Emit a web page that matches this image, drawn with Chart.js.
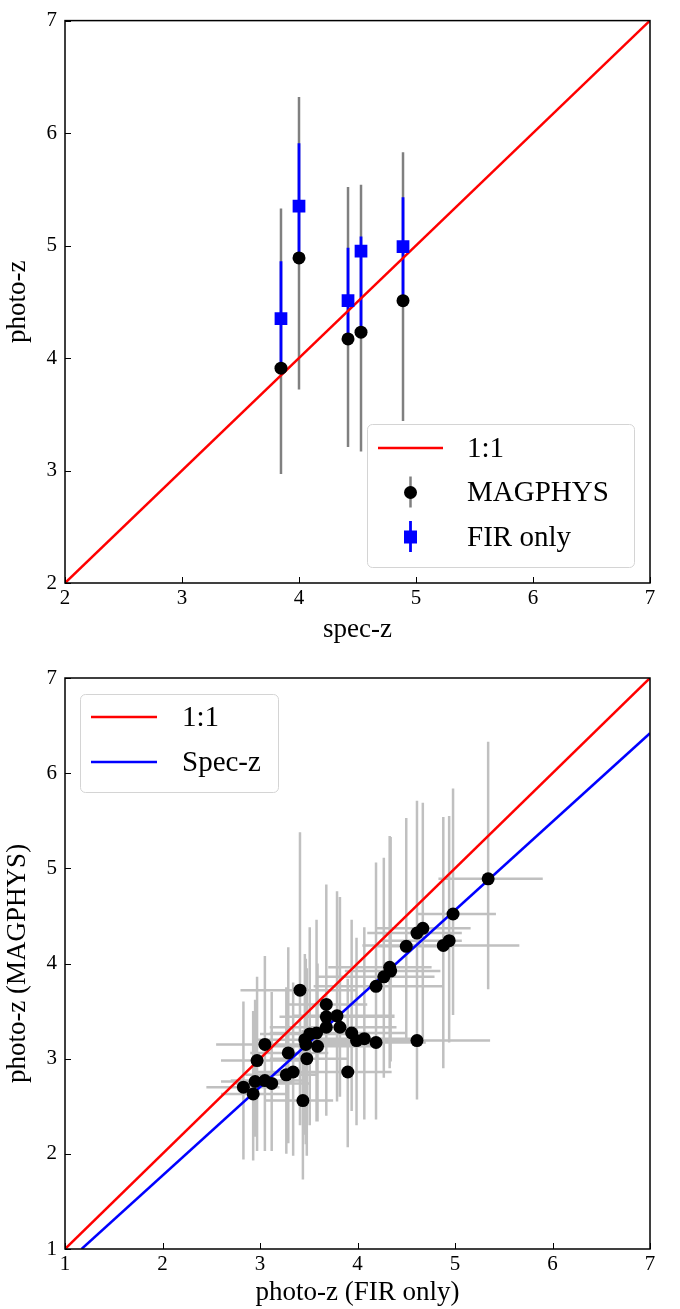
<!DOCTYPE html>
<html>
<head>
<meta charset="utf-8">
<script src="https://cdn.jsdelivr.net/npm/chart.js@4.4.1/dist/chart.umd.min.js"></script>
<style>
  html, body { margin: 0; padding: 0; background: #fff; }
  #wrap { position: relative; width: 680px; height: 1309px; }
  .panel { position: absolute; left: 0; width: 680px; }
</style>
</head>
<body>
<div id="wrap">
  <div class="panel" style="top:0;height:655px"><canvas id="chart-spec"></canvas></div>
  <div class="panel" style="top:655px;height:654px"><canvas id="chart-photo"></canvas></div>
</div>
<script>
// top panel: spec-z against photo-z
var specZ = [3.846, 4.0, 4.419, 4.53, 4.889];
var magphysZ = [3.91, 4.89, 4.17, 4.23, 4.51];
var magphysLo = [2.97, 3.72, 3.21, 3.17, 3.44];
var magphysHi = [5.33, 6.32, 5.52, 5.54, 5.83];
var firZ = [4.35, 5.35, 4.51, 4.95, 4.99];
var firLo = [3.90, 4.87, 4.17, 4.23, 4.51];
var firHi = [4.86, 5.91, 4.98, 5.08, 5.43];
var specTicks = [2, 3, 4, 5, 6, 7];

// bottom panel: FIR-only photo-z against MAGPHYS photo-z
var firOnly   = [5.34, 4.98, 4.61, 4.67, 4.88, 4.94, 4.50, 4.33, 4.34, 4.27, 4.19, 4.19, 4.61, 4.07, 3.99, 3.94, 3.82, 3.68, 3.79, 3.68,
                 3.68, 3.41, 3.58, 3.51, 3.46, 3.47, 3.59, 3.48, 3.29, 3.05, 2.97, 3.90, 3.27, 3.34, 2.95, 3.05, 3.12, 2.83, 2.93, 3.44];
var firOnlyLo = [4.83, 4.62, 4.10, 4.20, 4.05, 4.23, 4.17, 3.70, 3.87, 3.60, 3.55, 3.60, 3.75, 3.55, 3.40, 3.45, 3.30, 3.10, 3.35, 3.20,
                 3.30, 2.80, 3.10, 3.00, 2.95, 2.90, 3.05, 3.10, 2.90, 2.55, 2.60, 3.40, 2.85, 2.95, 2.60, 2.70, 2.75, 2.45, 2.60, 3.05];
var firOnlyHi = [5.90, 5.42, 5.07, 5.16, 5.66, 5.07, 4.98, 4.76, 4.85, 4.79, 4.88, 4.70, 5.36, 4.65, 4.55, 4.50, 4.40, 4.20, 4.38, 4.38,
                 4.10, 4.00, 4.05, 4.00, 3.90, 4.20, 4.20, 3.90, 3.70, 3.50, 3.40, 4.35, 3.60, 3.70, 3.35, 3.45, 3.50, 3.20, 3.30, 3.75];
var magphys   = [4.89, 4.52, 4.32, 4.37, 4.19, 4.24, 4.18, 3.96, 3.92, 3.86, 3.76, 3.17, 3.19, 3.21, 3.19, 3.27, 3.33, 3.33, 3.45, 3.44,
                 3.57, 3.72, 3.27, 3.26, 3.20, 3.15, 3.13, 3.00, 3.06, 3.15, 2.98, 2.86, 2.83, 2.86, 2.76, 2.77, 2.74, 2.70, 2.63, 2.56];
var magphysLo2 = [3.73, 3.46, 3.05, 3.20, 2.90, 3.17, 3.21, 2.90, 2.97, 2.80, 2.36, 2.36, 2.57, 2.36, 2.30, 2.45, 2.60, 2.50, 2.55, 2.40,
                 2.70, 2.30, 2.34, 2.30, 2.20, 2.10, 2.34, 1.98, 2.11, 2.18, 2.03, 2.07, 2.00, 1.98, 2.18, 2.03, 2.03, 1.94, 1.93, 1.73];
var magphysHi2 = [6.33, 5.84, 5.71, 5.69, 5.54, 5.55, 5.53, 5.34, 5.33, 5.11, 5.06, 4.47, 4.60, 4.38, 4.27, 4.46, 4.70, 4.65, 4.76, 4.60,
                 4.83, 5.38, 4.46, 4.38, 4.10, 4.05, 4.00, 3.95, 4.17, 4.08, 3.86, 3.84, 3.75, 3.80, 3.62, 3.60, 3.70, 3.60, 3.50, 3.30];
var specFitX = [1.17, 7];
var specFitY = [1, 6.42];
var photoTicks = [1, 2, 3, 4, 5, 6, 7];

var SERIF = "'Liberation Serif', 'DejaVu Serif', serif";
Chart.defaults.font.family = SERIF;
Chart.defaults.color = "#000";

function pairs(xs, ys) {
  return xs.map(function (x, i) { return { x: x, y: ys[i] }; });
}

// error bars, drawn under the datasets through the chart's scales
var errorBars = {
  id: "errorBars",
  beforeDatasetsDraw: function (chart, args, opts) {
    var ctx = chart.ctx, sx = chart.scales.x, sy = chart.scales.y, a = chart.chartArea;
    ctx.save();
    ctx.beginPath();
    ctx.rect(a.left, a.top, a.right - a.left, a.bottom - a.top);
    ctx.clip();
    (opts.sets || []).forEach(function (s) {
      ctx.strokeStyle = s.color;
      ctx.lineWidth = s.width;
      ctx.beginPath();
      for (var i = 0; i < s.x.length; i++) {
        var px = sx.getPixelForValue(s.x[i]), py = sy.getPixelForValue(s.y[i]);
        if (s.yLo) {
          ctx.moveTo(px, sy.getPixelForValue(s.yLo[i]));
          ctx.lineTo(px, sy.getPixelForValue(s.yHi[i]));
        }
        if (s.xLo) {
          ctx.moveTo(sx.getPixelForValue(s.xLo[i]), py);
          ctx.lineTo(sx.getPixelForValue(s.xHi[i]), py);
        }
      }
      ctx.stroke();
    });
    ctx.restore();
  }
};

// matplotlib style box with inward ticks
var frame = {
  id: "frame",
  afterDatasetsDraw: function (chart) {
    var ctx = chart.ctx, a = chart.chartArea, sx = chart.scales.x, sy = chart.scales.y;
    ctx.save();
    ctx.strokeStyle = "#000";
    ctx.lineWidth = 1;
    ctx.beginPath();
    sx.ticks.forEach(function (t) {
      var p = Math.round(sx.getPixelForValue(t.value)) + 0.5;
      ctx.moveTo(p, a.bottom);
      ctx.lineTo(p, a.bottom - 6);
    });
    sy.ticks.forEach(function (t) {
      var p = Math.round(sy.getPixelForValue(t.value)) + 0.5;
      ctx.moveTo(a.left, p);
      ctx.lineTo(a.left + 6, p);
    });
    ctx.stroke();
    ctx.lineWidth = 1.5;
    ctx.strokeRect(a.left, a.top, a.right - a.left, a.bottom - a.top);
    ctx.restore();
  }
};

// legend box with errorbar handles
var boxLegend = {
  id: "boxLegend",
  afterDraw: function (chart, args, o) {
    if (!o.items) return;
    var ctx = chart.ctx;
    ctx.save();
    ctx.beginPath();
    ctx.roundRect(o.x + 0.5, o.y + 0.5, o.w, o.h, 5);
    ctx.fillStyle = "rgba(255,255,255,0.85)";
    ctx.fill();
    ctx.strokeStyle = "#d4d4d4";
    ctx.lineWidth = 1;
    ctx.stroke();
    ctx.font = o.fontSize + "px " + SERIF;
    ctx.textBaseline = "middle";
    ctx.textAlign = "left";
    o.items.forEach(function (it, i) {
      var cy = o.y + o.firstRow + i * o.rowGap;
      var x0 = o.x + o.handleX, x1 = x0 + o.handleW, cx = (x0 + x1) / 2;
      if (it.kind === "line") {
        ctx.strokeStyle = it.color;
        ctx.lineWidth = 2.5;
        ctx.beginPath();
        ctx.moveTo(x0, cy);
        ctx.lineTo(x1, cy);
        ctx.stroke();
      } else {
        ctx.strokeStyle = it.barColor;
        ctx.lineWidth = it.barWidth;
        ctx.beginPath();
        ctx.moveTo(cx, cy - 16);
        ctx.lineTo(cx, cy + 15);
        ctx.stroke();
        ctx.fillStyle = it.color;
        if (it.kind === "dot") {
          ctx.beginPath();
          ctx.arc(cx, cy, 6.5, 0, Math.PI * 2);
          ctx.fill();
        } else {
          ctx.fillRect(cx - 6.5, cy - 6.5, 13, 13);
        }
      }
      ctx.fillStyle = "#000";
      ctx.fillText(it.label, o.x + o.textX, cy + 1);
    });
    ctx.restore();
  }
};

function scaleOpts(min, max, ticks, title, axisSize, titlePad, horizontal) {
  return {
    type: "linear",
    min: min,
    max: max,
    afterBuildTicks: function (scale) {
      scale.ticks = ticks.map(function (v) { return { value: v }; });
    },
    afterFit: function (scale) {
      if (horizontal) scale.height = axisSize; else scale.width = axisSize;
    },
    grid: { display: false, drawTicks: false },
    border: { display: false },
    ticks: {
      padding: horizontal ? 3 : 8,
      color: "#000",
      font: { size: 21, family: SERIF },
    },
    title: {
      display: true,
      text: title,
      color: "#000",
      font: { size: 27, family: SERIF },
      padding: horizontal ? { top: 0, bottom: titlePad } : { top: titlePad, bottom: 0 },
    },
  };
}

var baseOptions = {
  responsive: true,
  maintainAspectRatio: false,
  animation: false,
  events: [],
};

// chart 1
new Chart(document.getElementById("chart-spec").getContext("2d"), {
  type: "scatter",
  data: {
    datasets: [
      {
        label: "1:1",
        type: "line",
        data: pairs([2, 7], [2, 7]),
        borderColor: "#ff0000",
        borderWidth: 2.5,
        pointRadius: 0,
        order: 3,
      },
      {
        label: "MAGPHYS",
        data: pairs(specZ, magphysZ),
        pointRadius: 6.5,
        pointBackgroundColor: "#000",
        pointBorderWidth: 0,
        order: 2,
      },
      {
        label: "FIR only",
        data: pairs(specZ, firZ),
        pointStyle: "rect",
        pointRadius: 9,
        pointBackgroundColor: "#0000ff",
        pointBorderWidth: 0,
        order: 1,
      },
    ],
  },
  options: Object.assign({}, baseOptions, {
    layout: { padding: { top: 12, right: 30, left: 0, bottom: 0 } },
    scales: {
      x: scaleOpts(2, 7, specTicks, "spec-z", 72, 9, true),
      y: scaleOpts(2, 7, specTicks, "photo-z", 65, 2, false),
    },
    plugins: {
      legend: { display: false },
      tooltip: { enabled: false },
      errorBars: {
        sets: [
          { x: specZ, y: magphysZ, yLo: magphysLo, yHi: magphysHi, color: "#808080", width: 2.5 },
          { x: specZ, y: firZ, yLo: firLo, yHi: firHi, color: "#0000ff", width: 2.8 },
        ],
      },
      boxLegend: {
        x: 367, y: 424, w: 267, h: 143,
        handleX: 11, handleW: 65, textX: 100,
        firstRow: 24, rowGap: 44.5, fontSize: 29,
        items: [
          { kind: "line", color: "#ff0000", label: "1:1" },
          { kind: "dot", color: "#000", barColor: "#808080", barWidth: 2.5, label: "MAGPHYS" },
          { kind: "square", color: "#0000ff", barColor: "#0000ff", barWidth: 2.8, label: "FIR only" },
        ],
      },
    },
  }),
  plugins: [errorBars, frame, boxLegend],
});

// chart 2
new Chart(document.getElementById("chart-photo").getContext("2d"), {
  type: "scatter",
  data: {
    datasets: [
      {
        label: "1:1",
        type: "line",
        data: pairs([1, 7], [1, 7]),
        borderColor: "#ff0000",
        borderWidth: 2.5,
        pointRadius: 0,
        order: 3,
      },
      {
        label: "Spec-z",
        type: "line",
        data: pairs(specFitX, specFitY),
        borderColor: "#0000ff",
        borderWidth: 2.5,
        pointRadius: 0,
        order: 2,
      },
      {
        label: "sources",
        data: pairs(firOnly, magphys),
        pointRadius: 6.5,
        pointBackgroundColor: "#000",
        pointBorderWidth: 0,
        order: 1,
      },
    ],
  },
  options: Object.assign({}, baseOptions, {
    layout: { padding: { top: 23, right: 30, left: 0, bottom: 0 } },
    scales: {
      x: scaleOpts(1, 7, photoTicks, "photo-z (FIR only)", 60, 0, true),
      y: scaleOpts(1, 7, photoTicks, "photo-z (MAGPHYS)", 65, 2, false),
    },
    plugins: {
      legend: { display: false },
      tooltip: { enabled: false },
      errorBars: {
        sets: [
          { x: firOnly, y: magphys, xLo: firOnlyLo, xHi: firOnlyHi, yLo: magphysLo2, yHi: magphysHi2, color: "#c0c0c0", width: 2.5 },
        ],
      },
      boxLegend: {
        x: 80, y: 39, w: 198, h: 98,
        handleX: 11, handleW: 66, textX: 102,
        firstRow: 23, rowGap: 45, fontSize: 29,
        items: [
          { kind: "line", color: "#ff0000", label: "1:1" },
          { kind: "line", color: "#0000ff", label: "Spec-z" },
        ],
      },
    },
  }),
  plugins: [errorBars, frame, boxLegend],
});
</script>
</body>
</html>
